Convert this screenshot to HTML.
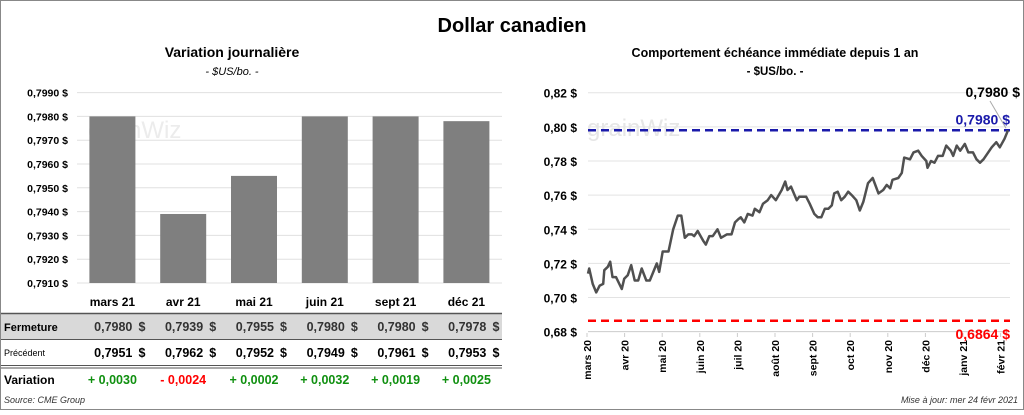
<!DOCTYPE html>
<html><head><meta charset="utf-8"><style>
body{margin:0;width:1024px;height:410px;background:#fff;font-family:"Liberation Sans",sans-serif;overflow:hidden}
svg text{font-family:"Liberation Sans",sans-serif}
</style></head><body>
<svg id="s" width="1024" height="410">
<rect x="0.5" y="0.5" width="1023" height="409" fill="#fff" stroke="#888"/>
<text x="512" y="32" text-anchor="middle" font-size="20" font-weight="bold">Dollar canadien</text>
<text x="232" y="57" text-anchor="middle" font-size="14" font-weight="bold">Variation  journalière</text>
<text x="232" y="75" text-anchor="middle" font-size="11" font-style="italic">- $US/bo. -</text>
<text x="775" y="57" text-anchor="middle" font-size="12.5" font-weight="bold">Comportement échéance immédiate depuis 1 an</text>
<text x="775" y="75" text-anchor="middle" font-size="11.5" font-weight="bold">- $US/bo. -</text>
<g id="L"></g><g id="T"></g><g id="R"></g>
<text x="4" y="403" font-size="9" font-style="italic" fill="#333">Source: CME Group</text>
<text x="1018" y="403" text-anchor="end" font-size="9" font-style="italic" fill="#333">Mise à jour: mer 24 févr 2021</text>
</svg>
<script>
const NS="http://www.w3.org/2000/svg";
function mk(p,t,a,txt){const e=document.createElementNS(NS,t);for(const k in a)e.setAttribute(k,a[k]);if(txt!==undefined)e.textContent=txt;p.appendChild(e);return e;}
// ---- left data
const months=["mars 21","avr 21","mai 21","juin 21","sept 21","déc 21"];
const closes=[0.7980,0.7939,0.7955,0.7980,0.7980,0.7978];
const prevs=[0.7951,0.7962,0.7952,0.7949,0.7961,0.7953];
const changes=[0.0030,-0.0024,0.0002,0.0032,0.0019,0.0025];
const leftTicks=[0.7910,0.7920,0.7930,0.7940,0.7950,0.7960,0.7970,0.7980,0.7990];
// ---- right data
const days=[0,1,4,7,10,13,14,17,19,21,24,29,31,34,37,40,43,46,50,53,59,61,64,69,73,77,80,83,86,89,91,94,99,101,104,107,111,114,119,123,126,129,131,134,137,141,143,147,150,154,157,161,166,169,171,174,179,181,187,190,194,197,200,203,206,209,211,214,217,220,223,226,230,233,236,240,244,249,253,256,259,261,266,269,271,276,279,283,286,290,291,294,297,300,304,307,311,313,316,319,323,326,330,333,336,339,343,346,350,353,357,360];
const prices=[0.714,0.717,0.708,0.703,0.707,0.708,0.716,0.718,0.721,0.712,0.712,0.705,0.711,0.713,0.719,0.710,0.710,0.717,0.710,0.710,0.720,0.715,0.727,0.727,0.740,0.748,0.748,0.735,0.737,0.737,0.736,0.739,0.733,0.731,0.736,0.736,0.740,0.735,0.737,0.737,0.744,0.746,0.747,0.744,0.749,0.748,0.752,0.750,0.755,0.757,0.760,0.757,0.763,0.768,0.763,0.765,0.757,0.759,0.759,0.755,0.749,0.747,0.747,0.752,0.752,0.754,0.761,0.762,0.757,0.759,0.762,0.760,0.757,0.751,0.756,0.767,0.770,0.761,0.763,0.766,0.764,0.769,0.770,0.773,0.782,0.781,0.785,0.786,0.783,0.780,0.776,0.780,0.779,0.783,0.783,0.789,0.786,0.783,0.789,0.786,0.790,0.785,0.785,0.781,0.779,0.781,0.785,0.788,0.791,0.788,0.793,0.798];
const monthLabels=["mars 20","avr 20","mai 20","juin 20","juil 20","août 20","sept 20","oct 20","nov 20","déc 20","janv 21","févr 21"];
const rightTicks=[0.68,0.70,0.72,0.74,0.76,0.78,0.80,0.82];
const highVal=0.7980, lowVal=0.6864, lastVal=0.7980;
const fr=v=>v.toFixed(4).replace('.',',');
// ---- left chart
const L=document.getElementById('L');
const ly=v=>283-(v-0.7910)/0.0010*23.8, lx0=77, bw=70.8;
leftTicks.forEach(t=>{
 const g=mk(L,'line',{x1:lx0,x2:502,y1:ly(t),y2:ly(t),stroke:'#e0e0e0'});
 
 const tx=mk(L,'text',{x:68,y:ly(t)+4,'text-anchor':'end','font-size':10.5,'font-weight':'bold'},fr(t)+' $');
 
});
const wm=mk(L,'text',{x:88,y:138,'font-size':24,fill:'#ececec'},'grainWiz');

closes.forEach((v,i)=>{
 const cx=lx0+bw*(i+0.5);
 const b=mk(L,'rect',{x:cx-23,y:ly(v),width:46,height:283-ly(v),fill:'#7f7f7f'});
 
});
// ---- table
const T=document.getElementById('T');
mk(T,'rect',{x:1,y:314,width:501,height:25,fill:'#d9d9d9'});
mk(T,'line',{x1:1,x2:502,y1:313.5,y2:313.5,stroke:'#555','stroke-width':1.5});
mk(T,'line',{x1:1,x2:502,y1:339.5,y2:339.5,stroke:'#555','stroke-width':1});
mk(T,'line',{x1:1,x2:502,y1:365.5,y2:365.5,stroke:'#555','stroke-width':1});
mk(T,'line',{x1:1,x2:502,y1:368,y2:368,stroke:'#555','stroke-width':1});
const rl=[['Fermeture',331,11,'bold'],['Précédent',356,9,'normal'],['Variation',384,12,'bold']];
rl.forEach(r=>{const t=mk(T,'text',{x:4,y:r[1],'font-size':r[2],'font-weight':r[3]},r[0]);});
months.forEach((m,i)=>{
 const cx=lx0+bw*(i+0.5);
 const h=mk(T,'text',{x:cx,y:306,'text-anchor':'middle','font-size':12,'font-weight':'bold'},m);
 
 const c=mk(T,'text',{x:cx+20,y:331,'text-anchor':'end','font-size':12.5,'font-weight':'bold',fill:'#333'},fr(closes[i]));
 
 mk(T,'text',{x:cx+33,y:331,'text-anchor':'end','font-size':12.5,'font-weight':'bold',fill:'#333'},'$');
 const p=mk(T,'text',{x:cx+20,y:357,'text-anchor':'end','font-size':12.5,'font-weight':'bold'},fr(prevs[i]));
 
 mk(T,'text',{x:cx+33,y:357,'text-anchor':'end','font-size':12.5,'font-weight':'bold'},'$');
 const v=changes[i];
 const ch=mk(T,'text',{x:cx,y:384,'text-anchor':'middle','font-size':12.5,'font-weight':'bold',fill:v<0?'#ff0000':'#109010'},(v<0?'- ':'+ ')+fr(Math.abs(v)));
 
});
// ---- right chart
const R=document.getElementById('R');
const rx=d=>588+d/360*420, ry=v=>92.7+(0.82-v)/0.02*34.14;
rightTicks.forEach(t=>{
 const g=mk(R,'line',{x1:588,x2:1010,y1:ry(t),y2:ry(t),stroke:t===0.68?'#ccc':'#e3e3e3'});
 
 const tx=mk(R,'text',{x:577,y:ry(t)+5,'text-anchor':'end','font-size':12,'font-weight':'bold'},t.toFixed(2).replace('.',',')+' $');
 
});
const wm2=mk(R,'text',{x:587,y:136,'font-size':24,fill:'#e6e6e6'},'grainWiz');

monthLabels.forEach((m,i)=>{
 const x=587+i*37.6;
 mk(R,'line',{x1:x,x2:x,y1:333,y2:337,stroke:'#ccc'});
 const t=mk(R,'text',{x:0,y:0,transform:`translate(${x+4},340) rotate(-90)`,'text-anchor':'end','font-size':10.5,'font-weight':'bold'},m);
 
});
const hl=mk(R,'line',{x1:588,x2:1010,y1:ry(highVal),y2:ry(highVal),stroke:'#1a1aaa','stroke-width':2.5,'stroke-dasharray':'8,5'});

const lo=mk(R,'line',{x1:588,x2:1010,y1:ry(lowVal),y2:ry(lowVal),stroke:'#ff0000','stroke-width':2.5,'stroke-dasharray':'8,5'});

let d='';days.forEach((dd,i)=>{d+=(i?'L':'M')+rx(dd).toFixed(1)+','+ry(prices[i]).toFixed(1);});
const pl=mk(R,'path',{d:d,fill:'none',stroke:'#505050','stroke-width':2.5,'stroke-linejoin':'round'});

const hlab=mk(R,'text',{x:1010,y:ry(highVal)-6,'text-anchor':'end','font-size':14,'font-weight':'bold',fill:'#1a1aaa'},fr(highVal)+' $');

const llab=mk(R,'text',{x:1010,y:ry(lowVal)+18,'text-anchor':'end','font-size':14,'font-weight':'bold',fill:'#ff0000'},fr(lowVal)+' $');

const last=mk(R,'text',{x:1020,y:97,'text-anchor':'end','font-size':14,'font-weight':'bold'},fr(lastVal)+' $');

mk(R,'line',{x1:990,y1:101,x2:1006,y2:ry(lastVal)-2,stroke:'#aaa'});
</script>
</body></html>
